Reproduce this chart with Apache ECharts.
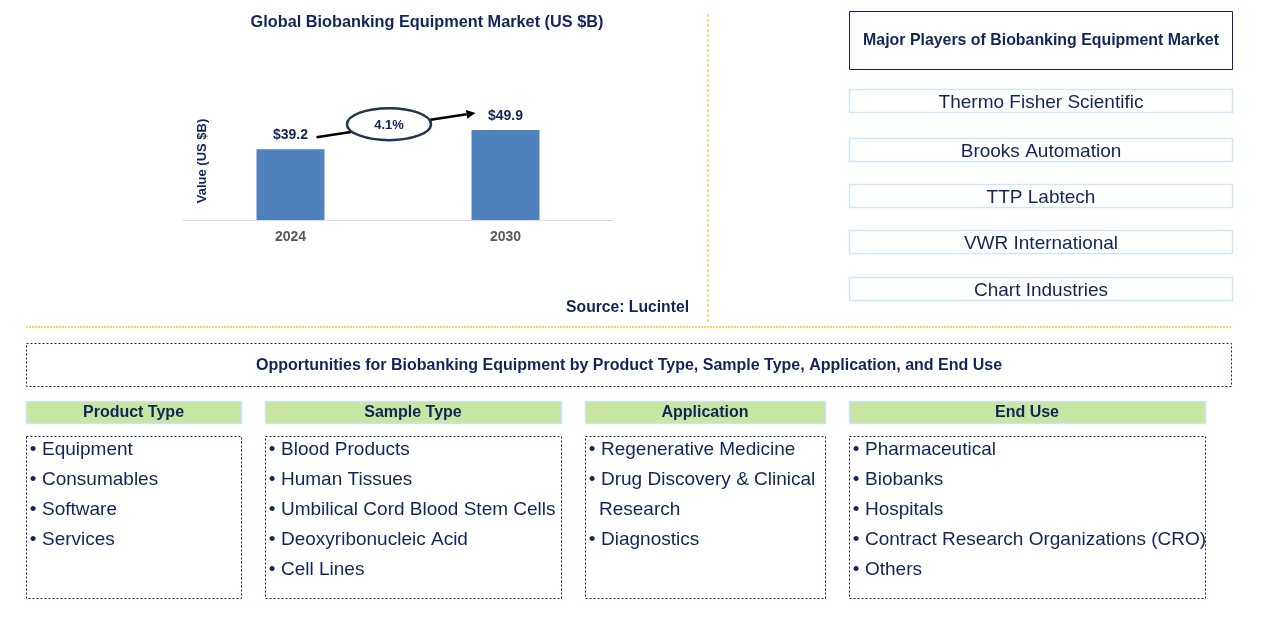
<!DOCTYPE html>
<html>
<head>
<meta charset="utf-8">
<script src="https://cdn.jsdelivr.net/npm/echarts@6/dist/echarts.min.js"></script>
<style>
html,body{margin:0;padding:0;background:#fff;}
#main{width:1261px;height:620px;}
</style>
</head>
<body>
<div id="main"></div>
<script>
// ---- data ----
var chartTitle = 'Global Biobanking Equipment Market (US $B)';
var years = ['2024', '2030'];
var values = [39.2, 49.9];
var valueLabels = ['$39.2', '$49.9'];
var cagrText = '4.1%';
var yAxisName = 'Value (US $B)';
var sourceText = 'Source: Lucintel';
var playersTitle = 'Major Players of Biobanking Equipment Market';
var players = ['Thermo Fisher Scientific', 'Brooks Automation', 'TTP Labtech', 'VWR International', 'Chart Industries'];
var oppTitle = 'Opportunities for Biobanking Equipment by Product Type, Sample Type, Application, and End Use';
var segHeaders = ['Product Type', 'Sample Type', 'Application', 'End Use'];
var productType = ['Equipment', 'Consumables', 'Software', 'Services'];
var sampleType = ['Blood Products', 'Human Tissues', 'Umbilical Cord Blood Stem Cells', 'Deoxyribonucleic Acid', 'Cell Lines'];
var application = ['Regenerative Medicine', 'Drug Discovery & Clinical\nResearch', 'Diagnostics'];
var endUse = ['Pharmaceutical', 'Biobanks', 'Hospitals', 'Contract Research Organizations (CRO)', 'Others'];
var segLists = [productType, sampleType, application, endUse];

// ---- layout / style ----
var NAVY = '#13245a';
var FONT = '"Liberation Sans", Arial, sans-serif';
var ITEM_FONT = '19px ' + FONT;
var segX = [[26, 241], [265, 561], [585, 825], [849, 1205]];

var chart = echarts.init(document.getElementById('main'), null, {renderer: 'canvas'});

var graphics = [];
graphics.push({type: 'text', x: 427, y: 23, style: {text: chartTitle, fill: NAVY, font: 'bold 16.3px ' + FONT, textAlign: 'center', textVerticalAlign: 'middle'}});
graphics.push({type: 'text', x: 202, y: 161, rotation: Math.PI / 2, style: {text: yAxisName, fill: NAVY, font: 'bold 13px ' + FONT, textAlign: 'center', textVerticalAlign: 'middle'}});
graphics.push({type: 'text', x: 689, y: 308, style: {text: sourceText, fill: NAVY, font: 'bold 15.7px ' + FONT, textAlign: 'right', textVerticalAlign: 'middle'}});
graphics.push({type: 'line', shape: {x1: 708, y1: 14, x2: 708, y2: 322}, style: {stroke: '#f2b705', lineWidth: 1, lineDash: [3, 2]}});
graphics.push({type: 'line', shape: {x1: 26, y1: 327, x2: 1232, y2: 327}, style: {stroke: '#f7c932', lineWidth: 1.5, lineDash: [2, 1]}});
graphics.push({type: 'rect', shape: {x: 849.5, y: 11.5, width: 383, height: 58}, style: {fill: '#fff', stroke: NAVY, lineWidth: 1}});
graphics.push({type: 'text', x: 1041, y: 41, style: {text: playersTitle, fill: NAVY, font: 'bold 15.9px ' + FONT, textAlign: 'center', textVerticalAlign: 'middle'}});
var playerY = [89.5, 138.5, 184.5, 230.5, 277.5];
players.forEach(function (p, i) {
  graphics.push({type: 'rect', shape: {x: 849.5, y: playerY[i], width: 383, height: 23}, style: {fill: '#fff', stroke: '#cfe6f6', lineWidth: 1.5}});
  graphics.push({type: 'text', x: 1041, y: playerY[i] + 13, style: {text: p, fill: NAVY, font: '19px ' + FONT, textAlign: 'center', textVerticalAlign: 'middle'}});
});
graphics.push({type: 'rect', shape: {x: 26.5, y: 343.5, width: 1205, height: 43}, style: {fill: 'none', stroke: NAVY, lineWidth: 1, lineDash: [2, 2]}});
graphics.push({type: 'text', x: 629, y: 366, style: {text: oppTitle, fill: NAVY, font: 'bold 16px ' + FONT, textAlign: 'center', textVerticalAlign: 'middle'}});
segHeaders.forEach(function (h, i) {
  var x0 = segX[i][0], x1 = segX[i][1];
  graphics.push({type: 'rect', shape: {x: x0 + 0.5, y: 401.5, width: x1 - x0, height: 22}, style: {fill: '#c6e6a2', stroke: '#cbe3f3', lineWidth: 1.5}});
  graphics.push({type: 'text', x: (x0 + x1) / 2, y: 413, style: {text: h, fill: NAVY, font: 'bold 16px ' + FONT, textAlign: 'center', textVerticalAlign: 'middle'}});
  graphics.push({type: 'rect', shape: {x: x0 + 0.5, y: 436.5, width: x1 - x0, height: 162}, style: {fill: 'none', stroke: NAVY, lineWidth: 1, lineDash: [2, 2]}});
  var line = 0;
  segLists[i].forEach(function (item) {
    var parts = item.split('\n');
    parts.forEach(function (pt, k) {
      var yy = 450 + line * 30;
      if (k === 0) {
        graphics.push({type: 'text', x: x0 + 7, y: yy, style: {text: '\u2022', fill: NAVY, font: ITEM_FONT, textAlign: 'center', textVerticalAlign: 'middle'}});
        graphics.push({type: 'text', x: x0 + 16, y: yy, style: {text: pt, fill: NAVY, font: ITEM_FONT, textAlign: 'left', textVerticalAlign: 'middle'}});
      } else {
        graphics.push({type: 'text', x: x0 + 14, y: yy, style: {text: pt, fill: NAVY, font: ITEM_FONT, textAlign: 'left', textVerticalAlign: 'middle'}});
      }
      line++;
    });
  });
});

var option = {
  animation: false,
  backgroundColor: '#ffffff',
  grid: {left: 183, width: 430, top: 120, height: 100, containLabel: false},
  xAxis: {
    type: 'category', data: years,
    axisLine: {lineStyle: {color: '#d9d9d9', width: 1}},
    axisTick: {show: false},
    axisLabel: {color: '#595959', fontWeight: 'bold', fontSize: 14, fontFamily: FONT, margin: 10}
  },
  yAxis: {type: 'value', min: 0, max: 55.44, show: false, splitLine: {show: false}},
  series: [{
    type: 'bar', data: values, barWidth: 68,
    itemStyle: {color: '#4f81bd'},
    label: {show: true, position: 'top', distance: 7, color: NAVY, fontWeight: 'bold', fontSize: 14, fontFamily: FONT,
      formatter: function (p) { return valueLabels[p.dataIndex]; }}
  }],
  graphic: graphics
};
chart.setOption(option);

// arrow + CAGR ellipse anchored to bar tops via the axis scales
var p1 = chart.convertToPixel({gridIndex: 0}, [0, values[0]]);
var p2 = chart.convertToPixel({gridIndex: 0}, [1, values[1]]);
var sx = p1[0] + 26, sy = p1[1] - 12;
var ex = p2[0] - 30, ey = p2[1] - 17;
var ang = Math.atan2(ey - sy, ex - sx);
var ah = 9, aw = 4.5;
var bx = ex - ah * Math.cos(ang), by = ey - ah * Math.sin(ang);
var cx = (sx + ex) / 2 - 7, cy = (sy + ey) / 2 - 1;
chart.setOption({graphic: graphics.concat([
  {type: 'line', shape: {x1: sx, y1: sy, x2: bx, y2: by}, style: {stroke: '#000', lineWidth: 2.5}},
  {type: 'polygon', shape: {points: [[ex, ey], [bx - aw * Math.sin(ang), by + aw * Math.cos(ang)], [bx + aw * Math.sin(ang), by - aw * Math.cos(ang)]]}, style: {fill: '#000'}},
  {type: 'ellipse', shape: {cx: cx, cy: cy, rx: 42, ry: 16}, style: {fill: '#fff', stroke: '#1f3550', lineWidth: 2.5}},
  {type: 'text', x: cx, y: cy + 1, style: {text: cagrText, fill: NAVY, font: 'bold 13px ' + FONT, textAlign: 'center', textVerticalAlign: 'middle'}}
])});
</script>
</body>
</html>
